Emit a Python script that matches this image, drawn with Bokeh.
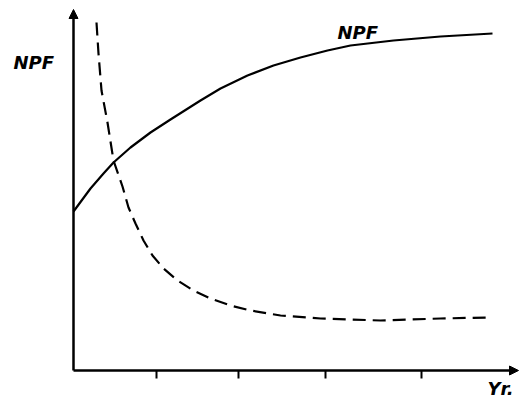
from bokeh.plotting import figure
from bokeh.models import Range1d, Arrow, NormalHead
from bokeh.core.properties import value
from bokeh.embed import file_html
from bokeh.resources import INLINE

# solid curve (NPF)
npf_x = [0.0, 1.7, 3.0, 4.0, 5.7, 7.7, 9.7, 12.7, 14.7, 17.4, 20.0, 22.7, 25.4, 27.7, 32.0, 36.7, 41.9]
npf_y = [15.9, 18.2, 19.7, 20.8, 22.3, 23.8, 25.1, 27.0, 28.2, 29.5, 30.5, 31.3, 32.0, 32.5, 33.0, 33.4, 33.7]

# dashed curve
dash_x = [2.3, 2.5, 2.8, 3.4, 4.0, 4.9, 5.5, 6.2, 7.0, 7.9, 9.0, 10.4, 12.0, 13.7, 15.7, 17.7, 20.7, 24.7, 30.7, 36.7, 41.4]
dash_y = [34.8, 31.7, 28.0, 24.8, 21.0, 18.4, 16.3, 14.7, 13.0, 11.5, 10.2, 9.0, 8.0, 7.2, 6.5, 6.0, 5.5, 5.2, 5.0, 5.2, 5.3]

# x-axis tick positions
tick_x = [8.3, 16.5, 25.2, 34.8]
tick_len = 0.8

# axis extents
x_axis_end = 44.5
y_axis_end = 36.1

p = figure(width=519, height=403, output_backend="svg", toolbar_location=None,
           x_range=Range1d(-7.3, 44.6), y_range=Range1d(-3.3, 37.0),
           min_border=0, min_border_left=0, min_border_right=0,
           min_border_top=0, min_border_bottom=0)
p.xaxis.visible = False
p.yaxis.visible = False
p.grid.visible = False
p.outline_line_color = None
p.background_fill_color = "white"
p.border_fill_color = "white"

# axes
p.add_layout(Arrow(end=NormalHead(size=9, fill_color="black", line_color="black"),
                   x_start=0, y_start=0, x_end=0, y_end=y_axis_end,
                   line_width=2.5, line_color="black"))
p.add_layout(Arrow(end=NormalHead(size=9, fill_color="black", line_color="black"),
                   x_start=0, y_start=0, x_end=x_axis_end, y_end=0,
                   line_width=2.5, line_color="black"))
p.segment(x0=tick_x, y0=[0] * len(tick_x), x1=tick_x, y1=[-tick_len] * len(tick_x),
          line_width=2, line_color="black")

# curves
p.line(npf_x, npf_y, line_width=2.2, line_color="black")
p.line(dash_x, dash_y, line_width=2.2, line_color="black", line_dash="13 7")

# labels
label_style = dict(text_font=value("DejaVu Sans"), text_font_style="bold italic",
                   text_font_size="18px", text_baseline="alphabetic", text_color="black")
p.text(x=[-6.0], y=[30.8], text=["NPF"], **label_style)
p.text(x=[26.4], y=[33.8], text=["NPF"], **label_style)
p.text(x=[41.4], y=[-1.8], text=["Yr."], **label_style)

open("out.html", "w").write(file_html(p, INLINE))
